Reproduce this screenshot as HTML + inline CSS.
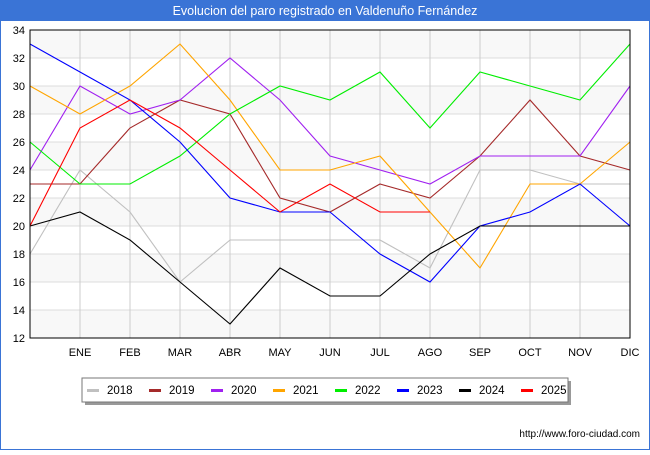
<!DOCTYPE html>
<html><head><meta charset="utf-8"><style>
body{margin:0;width:650px;height:450px;overflow:hidden;background:#fff;font-family:"Liberation Sans","DejaVu Sans",sans-serif}
</style></head><body>
<svg width="650" height="450" xmlns="http://www.w3.org/2000/svg">
<rect x="0.5" y="0.5" width="649" height="449" fill="#fff" stroke="#3a74d6"/>
<rect x="0" y="0" width="650" height="21" fill="#3a74d6"/>
<text x="325" y="15" text-anchor="middle" fill="#fff" font-size="12.5">Evolucion del paro registrado en Valdenuño Fernández</text>
<g id="bands"></g><g id="grid"></g><g id="series"></g><g id="axes"></g>
<rect x="30" y="30" width="600" height="308" fill="none" stroke="#000"/>
<rect x="85" y="381" width="486" height="24" fill="#999"/>
<rect x="82" y="378" width="486" height="24" fill="#fff" stroke="#777"/>
<g id="legend"></g>
<text x="640" y="437" text-anchor="end" font-size="10" fill="#000">http://www.foro-ciudad.com</text>
</svg>
<script>
const categories=["","ENE","FEB","MAR","ABR","MAY","JUN","JUL","AGO","SEP","OCT","NOV","DIC"];
const yTicks=[12,14,16,18,20,22,24,26,28,30,32,34];
const seriesNames=["2018","2019","2020","2021","2022","2023","2024","2025"];
const seriesColors=["#c0c0c0","#a52a2a","#a020f0","#ffa500","#00ee00","#0000ff","#000000","#ff0000"];
const s2018=[18,24,21,16,19,19,19,19,17,24,24,23,23];
const s2019=[23,23,27,29,28,22,21,23,22,25,29,25,24];
const s2020=[24,30,28,29,32,29,25,24,23,25,25,25,30];
const s2021=[30,28,30,33,29,24,24,25,21,17,23,23,26];
const s2022=[26,23,23,25,28,30,29,31,27,31,30,29,33];
const s2023=[33,31,29,26,22,21,21,18,16,20,21,23,20];
const s2024=[20,21,19,16,13,17,15,15,18,20,20,20,20];
const s2025=[20,27,29,27,24,21,23,21,21];
const allSeries=[s2018,s2019,s2020,s2021,s2022,s2023,s2024,s2025];
const NS="http://www.w3.org/2000/svg";
const X0=30,X1=630,Y0=338,Y1=30,YMIN=12,YMAX=34;
const xs=i=>X0+(X1-X0)*i/(categories.length-1);
const ys=v=>Y0-(v-YMIN)*(Y0-Y1)/(YMAX-YMIN);
function mk(t,a,p){const e=document.createElementNS(NS,t);for(const k in a)e.setAttribute(k,a[k]);p.appendChild(e);return e;}
const bands=document.getElementById('bands'),grid=document.getElementById('grid'),axes=document.getElementById('axes'),ser=document.getElementById('series'),leg=document.getElementById('legend');
for(let i=0;i<yTicks.length-1;i++){
 if(i%2===0){const r=mk('rect',{x:X0,y:ys(yTicks[i+1]),width:X1-X0,height:ys(yTicks[i])-ys(yTicks[i+1]),fill:'#f8f8f8'},bands);
 
 }
}
yTicks.forEach(v=>{
 const l=mk('line',{x1:X0,x2:X1,y1:ys(v),y2:ys(v),stroke:'#ddd'},grid);
 
 
 const t=mk('text',{x:25,y:ys(v)+4,'text-anchor':'end','font-size':'11',fill:'#000'},axes);
 t.textContent=v;
 
 
});
categories.forEach((c,i)=>{
 const l=mk('line',{x1:xs(i),x2:xs(i),y1:Y1,y2:Y0,stroke:'#ccc'},grid);
 
 
 if(c){const t=mk('text',{x:xs(i),y:356,'text-anchor':'middle','font-size':'11',fill:'#000'},axes);
 t.textContent=c;
 
 }
});
allSeries.forEach((d,k)=>{
 const p=mk('polyline',{points:d.map((v,i)=>xs(i)+','+ys(v)).join(' '),fill:'none',stroke:seriesColors[k],'stroke-width':'1.1'},ser);
 
 
 const lx=87+k*62;
 const sw=mk('rect',{x:lx,y:389,width:12,height:3,fill:seriesColors[k]},leg);
 
 
 const t=mk('text',{x:lx+20,y:394,'font-size':'11.5',fill:'#000'},leg);
 t.textContent=seriesNames[k];
 
 
});
</script>
</body></html>
